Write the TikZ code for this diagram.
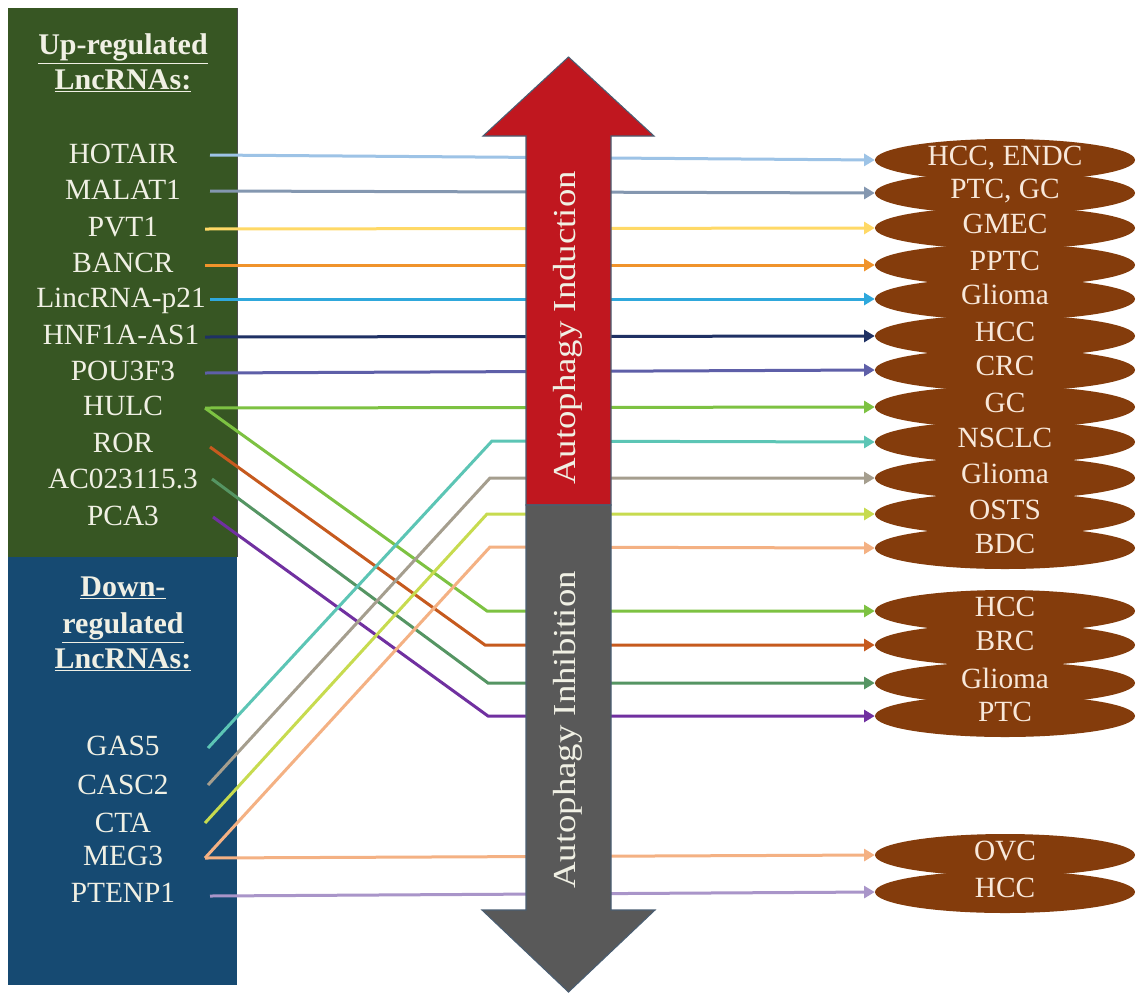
\documentclass[tikz,border=0pt]{standalone}
\usepackage{fontspec}
\setmainfont{Liberation Serif}
\usetikzlibrary{shapes.geometric,arrows.meta}
\definecolor{upgreen}{HTML}{375623}
\definecolor{downblue}{HTML}{164A72}
\definecolor{labtext}{HTML}{F0F0E4}
\definecolor{brownc}{HTML}{843C0C}
\definecolor{elltext}{HTML}{F8E8DA}
\definecolor{redarrow}{HTML}{C0171F}
\definecolor{grayarrow}{HTML}{595959}
\definecolor{arrowedge}{HTML}{4A5E72}
\definecolor{lnA}{HTML}{9DC3E6}
\definecolor{lnB}{HTML}{8497B0}
\definecolor{lnC}{HTML}{FFD966}
\definecolor{lnD}{HTML}{F0932B}
\definecolor{lnE}{HTML}{2FA8DC}
\definecolor{lnF}{HTML}{1F3164}
\definecolor{lnG}{HTML}{5E5FA8}
\definecolor{lnH}{HTML}{7DC242}
\definecolor{lnI}{HTML}{C65A1E}
\definecolor{lnJ}{HTML}{559563}
\definecolor{lnK}{HTML}{7030A0}
\definecolor{lnL}{HTML}{5CC5B5}
\definecolor{lnM}{HTML}{A59E8E}
\definecolor{lnN}{HTML}{C7DB4F}
\definecolor{lnO}{HTML}{F4B183}
\definecolor{lnP}{HTML}{A995C9}
\begin{document}
\begin{tikzpicture}[x=0.75pt,y=-0.75pt,
  lab/.style={text=labtext,font=\fontsize{22}{25}\selectfont,inner sep=0pt,text height=0.82em,text depth=0pt},
  ttl/.style={text=labtext,font=\bfseries\fontsize{22.5}{25}\selectfont,inner sep=0pt,text height=0.66em,text depth=0pt},
  ell/.style={ellipse,fill=brownc,minimum width=195pt,minimum height=31.5pt,inner sep=0pt,text=elltext,font=\fontsize{22}{25}\selectfont,text height=0.86em,text depth=0pt},
  conn/.style={line width=2.25pt,-{Triangle[length=8pt,width=9pt]}},
  arrtext/.style={rotate=90,font=\fontsize{24}{26}\selectfont,inner sep=0pt,text height=0.66em,text depth=0pt}
]
\useasboundingbox[fill=white] (0,0) rectangle (1138,993);
% left panels
\fill[upgreen] (8,8) rectangle (237,557);
\fill[downblue] (8,557) rectangle (237,985);
\draw[black!70,line width=0.6pt] (237,8) -- (237,557);
% titles
\node[ttl] (t1) at (123,50) {\underline{Up-regulated}};
\node[ttl] (t2) at (123,85) {\underline{LncRNAs:}};
\node[ttl] (t3) at (123,592) {\underline{Down-}};
\node[ttl] (t4) at (123,629) {\underline{regulated}};
\node[ttl] (t5) at (123,664) {\underline{LncRNAs:}};
% labels
\node[lab] (l1) at (123,158) {HOTAIR};
\node[lab] (l2) at (123,194) {MALAT1};
\node[lab] (l3) at (123,231) {PVT1};
\node[lab] (l4) at (123,267) {BANCR};
\node[lab] (l5) at (121,302) {LincRNA-p21};
\node[lab] (l6) at (121,339) {HNF1A-AS1};
\node[lab] (l7) at (123,375) {POU3F3};
\node[lab] (l8) at (123,410) {HULC};
\node[lab] (l9) at (123,447) {ROR};
\node[lab] (l10) at (123,483) {AC023115.3};
\node[lab] (l11) at (123,520) {PCA3};
\node[lab] (l12) at (123,750) {GAS5};
\node[lab] (l13) at (123,789) {CASC2};
\node[lab] (l14) at (123,827) {CTA};
\node[lab] (l15) at (123,860) {MEG3};
\node[lab] (l16) at (123,897) {PTENP1};
% ellipses
\node[ell] (e1) at (1005,160) {HCC, ENDC};
\node[ell] (e2) at (1005,193) {PTC, GC};
\node[ell] (e3) at (1005,228) {GMEC};
\node[ell] (e4) at (1005,265) {PPTC};
\node[ell] (e5) at (1005,299) {Glioma};
\node[ell] (e6) at (1005,336) {HCC};
\node[ell] (e7) at (1005,370) {CRC};
\node[ell] (e8) at (1005,407) {GC};
\node[ell] (e9) at (1005,442) {NSCLC};
\node[ell] (e10) at (1005,478) {Glioma};
\node[ell] (e11) at (1005,514) {OSTS};
\node[ell] (e12) at (1005,548) {BDC};
\node[ell] (e13) at (1005,611) {HCC};
\node[ell] (e14) at (1005,645) {BRC};
\node[ell] (e15) at (1005,683) {Glioma};
\node[ell] (e16) at (1005,716) {PTC};
\node[ell] (e17) at (1005,855) {OVC};
\node[ell] (e18) at (1005,892) {HCC};
% start and bend coordinates
\coordinate (s1) at (210,155);
\coordinate (s2) at (210,191);
\coordinate (s3) at (205,229);
\coordinate (s4) at (205,265);
\coordinate (s5) at (210,299);
\coordinate (s6) at (205,337);
\coordinate (s7) at (205,373);
\coordinate (s8) at (205,408);
\coordinate (s9) at (210,447);
\coordinate (s10) at (212,479);
\coordinate (s11) at (213,517);
\coordinate (s12) at (208,748);
\coordinate (s13) at (208,785);
\coordinate (s14) at (205,823);
\coordinate (s15) at (205,858);
\coordinate (s16) at (210,896);
\coordinate (b8) at (487,611);
\coordinate (b9) at (485,645);
\coordinate (b10) at (488,683);
\coordinate (b11) at (488,716);
\coordinate (b12) at (492,441);
\coordinate (b13) at (490,478);
\coordinate (b14) at (487,514);
\coordinate (b15) at (490,547);
% connectors
\draw[conn,lnA] (s1) -- (e1.west);
\draw[conn,lnB] (s2) -- (e2.west);
\draw[conn,lnC] (s3) -- (e3.west);
\draw[conn,lnD] (s4) -- (e4.west);
\draw[conn,lnE] (s5) -- (e5.west);
\draw[conn,lnF] (s6) -- (e6.west);
\draw[conn,lnG] (s7) -- (e7.west);
\draw[conn,lnH] (s8) -- (e8.west);
\draw[conn,lnH] (s8) -- (b8) -- (e13.west);
\draw[conn,lnI] (s9) -- (b9) -- (e14.west);
\draw[conn,lnJ] (s10) -- (b10) -- (e15.west);
\draw[conn,lnK] (s11) -- (b11) -- (e16.west);
\draw[conn,lnL] (s12) -- (b12) -- (e9.west);
\draw[conn,lnM] (s13) -- (b13) -- (e10.west);
\draw[conn,lnN] (s14) -- (b14) -- (e11.west);
\draw[conn,lnO] (s15) -- (b15) -- (e12.west);
\draw[conn,lnO] (s15) -- (e17.west);
\draw[conn,lnP] (s16) -- (e18.west);
% central double arrow
\filldraw[fill=redarrow,draw=arrowedge,line width=0.8pt] (526,505) -- (526,136) -- (483,136) -- (568.5,57) -- (654,136) -- (611,136) -- (611,505) -- cycle;
\filldraw[fill=grayarrow,draw=arrowedge,line width=0.8pt] (526,505) -- (526,910) -- (482,910) -- (568.5,992) -- (655,910) -- (611,910) -- (611,505) -- cycle;
\node[arrtext,text=labtext] (ind) at (571,328) {\scalebox{1.15}[1]{Autophagy Induction}};
\node[arrtext,text=labtext] (inh) at (571,730) {\scalebox{1.15}[1]{Autophagy Inhibition}};
\end{tikzpicture}
\end{document}
